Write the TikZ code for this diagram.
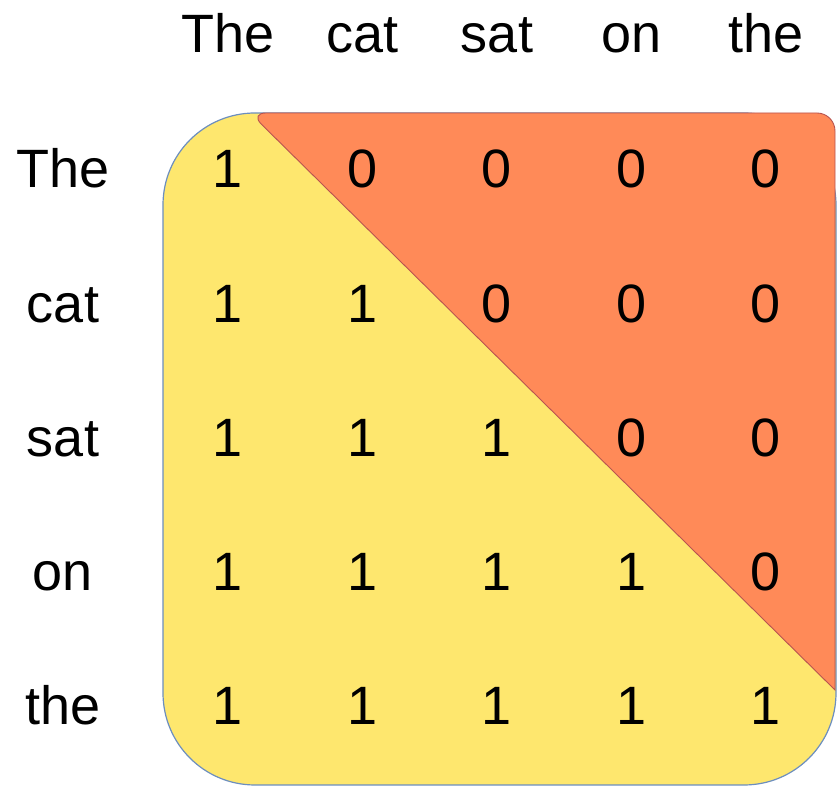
\documentclass[tikz,border=0pt]{standalone}
\usepackage{fontspec}
\setmainfont{Liberation Sans}
\definecolor{maskyellow}{RGB}{254,231,110}
\definecolor{maskorange}{RGB}{255,138,88}
\definecolor{yellowline}{RGB}{108,142,191}
\definecolor{orangeline}{RGB}{184,84,80}
\tikzset{
  word/.style={anchor=base,font=\fontsize{54}{60}\selectfont},
  cell/.style={anchor=base,font=\fontsize{54}{60}\selectfont}
}
\begin{document}
\begin{tikzpicture}[x=1pt,y=1pt]
\useasboundingbox (0,0) rectangle (839,800);

%lower part of the mask, the whole rounded square
\draw[fill=maskyellow,draw=yellowline,line width=1.2pt,rounded corners=92pt] (163,15) rectangle (836,687);

%upper triangle, masked out
\draw[fill=maskorange,draw=orangeline,line width=0.9pt] (835,110) [rounded corners=16pt] -- (250,687) [rounded corners=18pt] -- (835,687) [sharp corners] -- cycle;

%words on top and on the left
\foreach \w [count=\i] in {The,cat,sat,on,the} {
  \node[word] (col-\i) at (228+134.5*\i-134.5,747) {\w};
  \node[word] (row-\i) at (63,612-134.25*\i+134.25) {\w};
}

%ones on and below the diagonal, zeros above
\foreach \r in {1,...,5} {
  \foreach \c in {1,...,5} {
    \ifnum\c>\r
      \node[cell] (m-\r-\c) at (228+134.5*\c-134.5,612-134.25*\r+134.25) {0};
    \else
      \node[cell] (m-\r-\c) at (228+134.5*\c-134.5,612-134.25*\r+134.25) {1};
    \fi
  }
}

\end{tikzpicture}
\end{document}
